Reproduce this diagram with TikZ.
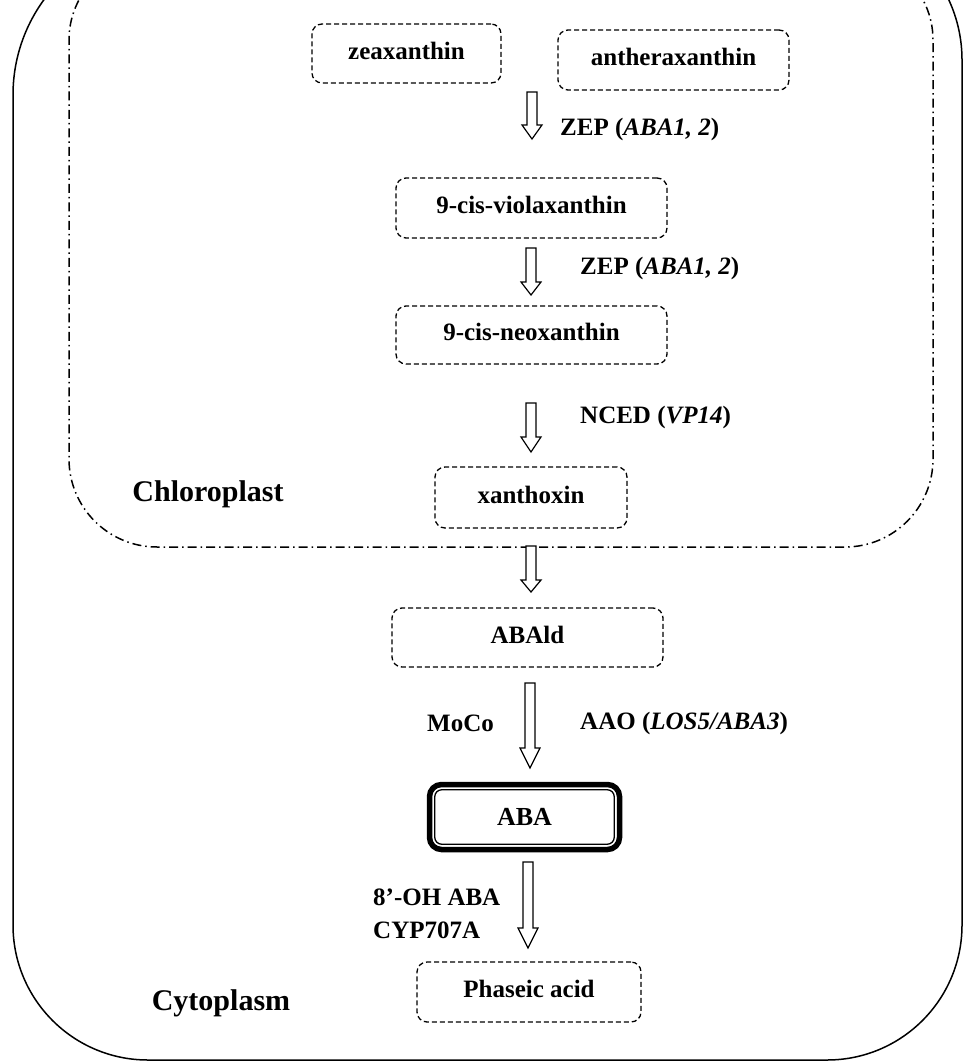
\documentclass[tikz,border=0pt]{standalone}
\usepackage{fontspec}
\setmainfont{Liberation Serif}
\usetikzlibrary{calc}
\newcommand\lift[1]{\raisebox{3pt}[\height][\depth]{#1}}
\tikzset{
  lbl/.style={font=\fontsize{25}{30}\selectfont\bfseries, inner sep=0pt},
  comp/.style={font=\fontsize{30}{36}\selectfont\bfseries, inner sep=0pt},
  dbox/.style={draw=black, line width=1.3pt, dash pattern=on 5pt off 3pt,
    rounded corners=10pt, inner sep=0pt, font=\fontsize{25}{30}\selectfont\bfseries},
  abaouter/.style={draw=black, line width=5.5pt, rounded corners=12pt, inner sep=0pt,
    font=\fontsize{26}{30}\selectfont\bfseries},
  abainner/.style={draw=black, line width=1.3pt, rounded corners=7pt},
  membrane/.style={draw=black, line width=1.5pt},
  plastid/.style={draw=black, line width=1.5pt, dash pattern=on 9pt off 4pt on 1.5pt off 4pt},
  blockarr/.style={draw=black, line width=1.2pt, fill=white, line join=miter}
}
\newcommand\hollowarrow[3]{%
  \draw[blockarr] let \p1=(#1), \p2=(#2) in
    (\x1-5pt,\y1) -- (\x1+5pt,\y1) -- (\x1+5pt,\y2+#3) -- (\x1+10pt,\y2+#3)
    -- (\x1,\y2) -- (\x1-10pt,\y2+#3) -- (\x1-5pt,\y2+#3) -- cycle;}
\begin{document}
\begin{tikzpicture}[x=1pt,y=-1pt]
\useasboundingbox (0,0) rectangle (965,1064);
\begin{scope}
\clip (0,0) rectangle (965,1064);
% outer cell membrane
\draw[membrane] (175,-67) .. controls (85.5,-67) and (13,5.5) .. (13,95)
  -- (13,925) .. controls (13,999.6) and (73.4,1060) .. (148,1060)
  -- (827,1060) .. controls (901.6,1060) and (962,999.6) .. (962,925)
  -- (962,60) .. controls (962,-19) and (898,-83) .. (819,-83);
% chloroplast envelope
\draw[plastid] (154,-45) .. controls (107,-45) and (69,-7) .. (69,40)
  -- (69,459) .. controls (69,507.6) and (108.4,547) .. (157,547)
  -- (845,547) .. controls (893.6,547) and (933,507.6) .. (933,459)
  -- (933,40) .. controls (933,-7) and (895,-45) .. (848,-45);
\end{scope}

% metabolite boxes
\node[dbox, minimum width=189pt, minimum height=59pt] (zea) at (406.5,53.5) {\lift{zeaxanthin}};
\node[dbox, minimum width=231pt, minimum height=60pt] (anth) at (673.5,60) {\lift{antheraxanthin}};
\node[dbox, minimum width=271pt, minimum height=60pt] (viola) at (531.5,208) {\lift{9-cis-violaxanthin}};
\node[dbox, minimum width=271pt, minimum height=58pt] (neo) at (531.5,335) {\lift{9-cis-neoxanthin}};
\node[dbox, minimum width=192pt, minimum height=61pt] (xan) at (531,497.5) {\lift{xanthoxin}};
\node[dbox, minimum width=271pt, minimum height=59pt] (abald) at (527.5,637.5) {\lift{ABAld}};
\node[abaouter, minimum width=190pt, minimum height=65pt] (aba) at (524.5,817) {ABA};
\draw[abainner] ([shift={(8,8)}]aba.north west) rectangle ([shift={(-8,-8)}]aba.south east);
\node[dbox, minimum width=224pt, minimum height=60pt] (pha) at (529,992) {\lift{Phaseic acid}};

% arrow end points
\coordinate (a1s) at (532,92);  \coordinate (a1e) at (532,139);
\coordinate (a2s) at (531,248); \coordinate (a2e) at (531,295);
\coordinate (a3s) at (531,403); \coordinate (a3e) at (531,452);
\coordinate (a4s) at (531,546); \coordinate (a4e) at (531,592);
\coordinate (a5s) at (530,683); \coordinate (a5e) at (530,768);
\coordinate (a6s) at (528,862); \coordinate (a6e) at (528,948);
\hollowarrow{a1s}{a1e}{14pt}
\hollowarrow{a2s}{a2e}{13pt}
\hollowarrow{a3s}{a3e}{15pt}
\hollowarrow{a4s}{a4e}{12pt}
\hollowarrow{a5s}{a5e}{20pt}
\hollowarrow{a6s}{a6e}{20pt}

% enzyme labels
\node[lbl, anchor=west] (zep1) at (560,129) {ZEP (\textit{ABA1, 2})};
\node[lbl, anchor=west] (zep2) at (580,268) {ZEP (\textit{ABA1, 2})};
\node[lbl, anchor=west] (nced) at (580,417) {NCED (\textit{VP14})};
\node[lbl, anchor=west] (moco) at (427,723) {MoCo};
\node[lbl, anchor=west] (aao) at (580,723) {AAO (\textit{LOS5/ABA3})};
\node[lbl, anchor=west] (oh) at (373,897) {8’-OH ABA};
\node[lbl, anchor=west] (cyp) at (373,930) {CYP707A};

% compartment labels
\node[comp] (chl) at (208,494) {Chloroplast};
\node[comp] (cyt) at (221,1003) {Cytoplasm};
\end{tikzpicture}
\end{document}
